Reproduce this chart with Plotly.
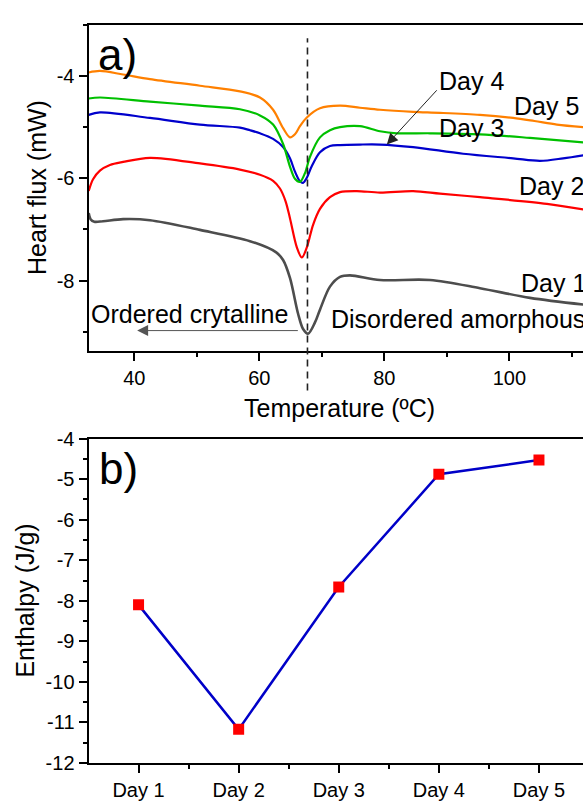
import plotly.graph_objects as go

# ---------------- data: panel a (DSC curves) ----------------
day1_T = [32.7, 33.0, 33.6, 35.0, 38.2, 42.5, 50.5, 58.5, 62.7, 63.8, 64.9, 66.2, 67.0, 67.8, 68.9, 69.7, 71.3, 72.9, 74.5, 79.3, 87.3, 95.3, 103.3, 111.8]
day1_H = [-6.68, -6.80, -6.85, -6.84, -6.80, -6.82, -7.01, -7.23, -7.45, -7.60, -7.95, -8.65, -8.95, -9.04, -8.82, -8.57, -8.12, -7.93, -7.90, -7.99, -7.99, -8.15, -8.34, -8.47]

day2_T = [32.7, 33.4, 34.5, 36.1, 38.2, 42.5, 50.5, 56.9, 60.1, 62.2, 63.3, 64.2, 64.9, 66.0, 66.8, 67.6, 68.6, 69.7, 71.3, 72.9, 75.6, 79.3, 84.6, 88.9, 95.3, 106.0, 111.8]
day2_H = [-6.25, -6.02, -5.85, -5.74, -5.68, -5.60, -5.71, -5.83, -5.93, -6.05, -6.20, -6.45, -6.78, -7.35, -7.55, -7.35, -6.91, -6.60, -6.37, -6.27, -6.25, -6.28, -6.25, -6.30, -6.37, -6.50, -6.61]

day3_T = [32.7, 34.5, 42.5, 50.5, 56.9, 60.1, 62.2, 63.8, 64.9, 65.7, 66.5, 67.3, 68.1, 69.7, 71.3, 72.9, 76.1, 79.3, 82.0, 87.3, 95.3, 103.3, 111.8]
day3_H = [-4.44, -4.42, -4.50, -4.58, -4.65, -4.77, -4.95, -5.33, -5.77, -6.01, -6.07, -5.90, -5.58, -5.20, -5.06, -5.00, -4.98, -5.08, -5.12, -5.12, -5.14, -5.21, -5.30]

day4_T = [32.7, 34.5, 42.5, 50.5, 56.9, 58.5, 60.1, 62.2, 63.8, 64.9, 65.7, 66.5, 67.0, 67.6, 68.4, 69.7, 71.3, 72.9, 76.1, 79.3, 84.6, 92.6, 100.6, 104.9, 108.6, 111.8]
day4_H = [-4.76, -4.71, -4.82, -4.95, -5.01, -5.06, -5.12, -5.23, -5.39, -5.61, -5.87, -6.06, -6.09, -5.99, -5.76, -5.49, -5.37, -5.35, -5.34, -5.34, -5.39, -5.52, -5.61, -5.66, -5.61, -5.55]

day5_T = [32.7, 34.5, 38.2, 42.5, 50.5, 56.9, 60.1, 62.2, 63.8, 64.9, 65.7, 66.5, 67.6, 69.7, 72.9, 76.1, 79.3, 84.6, 88.9, 95.3, 100.6, 104.0, 107.6, 111.8]
day5_H = [-3.93, -3.90, -3.97, -4.06, -4.19, -4.30, -4.42, -4.66, -5.02, -5.20, -5.14, -4.98, -4.81, -4.63, -4.58, -4.62, -4.66, -4.70, -4.72, -4.76, -4.82, -4.88, -4.95, -5.00]

curve_names = ["Day 1", "Day 2", "Day 3", "Day 4", "Day 5"]
curve_colors = ["#4d4d4d", "#ff0000", "#00c000", "#0000cc", "#ff8000"]

peak_T = 67.7

a_xtick_vals = [40, 60, 80, 100]
a_xtick_text = ["40", "60", "80", "100"]
a_ytick_vals = [-8, -6, -4]
a_ytick_text = ["-8", "-6", "-4"]

# ---------------- data: panel b (enthalpy) ----------------
days = ["Day 1", "Day 2", "Day 3", "Day 4", "Day 5"]
day_index = [1, 2, 3, 4, 5]
enthalpy = [-8.10, -11.17, -7.66, -4.88, -4.53]
b_ytick_vals = [-12, -11, -10, -9, -8, -7, -6, -5, -4]
b_ytick_text = ["-12", "-11", "-10", "-9", "-8", "-7", "-6", "-5", "-4"]

# ---------------- layout helpers ----------------
W, H = 583, 811
FONT = "Liberation Sans, Arial, sans-serif"


def px(x):
    return x / W


def py(y):
    return 1 - y / H


fig = go.Figure()

curves = [(day1_T, day1_H), (day2_T, day2_H), (day4_T, day4_H), (day3_T, day3_H), (day5_T, day5_H)]
order = [0, 1, 3, 2, 4]
for (t, h), i in zip(curves, order):
    fig.add_trace(go.Scatter(
        x=t, y=h, mode="lines", name=curve_names[i],
        line=dict(color=curve_colors[i], width=2.6 if i == 0 else 2.2, shape="spline", smoothing=0.9),
        xaxis="x", yaxis="y", hoverinfo="skip"))

fig.add_trace(go.Scatter(
    x=day_index, y=enthalpy, mode="lines+markers",
    line=dict(color="#0000c8", width=2.5),
    marker=dict(symbol="square", size=11, color="#ff0000", line=dict(width=0)),
    xaxis="x2", yaxis="y2", hoverinfo="skip"))

axis_common = dict(showline=True, linewidth=2, linecolor="black", showgrid=False, zeroline=False,
                   ticks="outside", ticklen=8, tickwidth=1.6, tickcolor="black",
                   tickfont=dict(family=FONT, size=20, color="black"))

fig.update_layout(
    width=W, height=H,
    margin=dict(l=0, r=0, t=0, b=0),
    paper_bgcolor="white", plot_bgcolor="white",
    showlegend=False,
    font=dict(family=FONT, color="black"),
    xaxis=dict(domain=[px(88.5), 1], anchor="y", range=[32.67, 111.78], mirror=True,
               tickmode="array", tickvals=a_xtick_vals, ticktext=a_xtick_text,
               minor=dict(tickvals=[50, 70, 90, 110], ticklen=4, tickwidth=1.6, ticks="outside", tickcolor="black"),
               **axis_common),
    yaxis=dict(domain=[py(349), py(14.3)], anchor="x", range=[-9.37, -3.0],
               tickmode="array", tickvals=a_ytick_vals, ticktext=a_ytick_text,
               minor=dict(tickvals=[-9, -7, -5, -3], ticklen=4, tickwidth=1.6, ticks="outside", tickcolor="black"),
               **axis_common),
    xaxis2=dict(domain=[px(88.5), 1], anchor="y2", range=[0.5, 5.44], mirror=True,
                tickmode="array", tickvals=day_index, ticktext=days,
                minor=dict(tickvals=[1.5, 2.5, 3.5, 4.5, 5.5], ticklen=4, tickwidth=1.6, ticks="outside", tickcolor="black"),
                **axis_common),
    yaxis2=dict(domain=[py(773), py(439.5)], anchor="x2", range=[-12, -4],
                tickmode="array", tickvals=b_ytick_vals, ticktext=b_ytick_text,
                minor=dict(tickvals=[-11.5, -10.5, -9.5, -8.5, -7.5, -6.5, -5.5, -4.5], ticklen=4, tickwidth=1.6,
                           ticks="outside", tickcolor="black"),
                **axis_common),
)

# dashed vertical line at the peak temperature
fig.add_shape(type="line", xref="x", yref="paper", x0=peak_T, x1=peak_T, y0=py(390), y1=py(28),
              line=dict(color="#222222", width=1.6, dash="7px,5px"), layer="above")

ann_font = dict(family=FONT, size=25, color="black")
texts = [
    ("a)", 96, 45, 44),
    ("b)", 97, 470, 44),
    ("Day 4", 437, 72, 25),
    ("Day 5", 512, 98, 25),
    ("Day 3", 437, 120, 25),
    ("Day 2", 517, 180, 25),
    ("Day 1", 519, 280, 25),
    ("Disordered amorphous", 329, 317, 25),
    ("Ordered crytalline", 89, 311, 25),
]
for t, x, y, s in texts:
    fig.add_annotation(text=t, xref="paper", yref="paper", x=px(x), y=py(y), xanchor="left", yanchor="middle",
                       showarrow=False, font=dict(family=FONT, size=s, color="black"))

# axis titles
fig.add_annotation(text="Temperature (ºC)", xref="paper", yref="paper", x=px(339), y=py(408),
                   xanchor="center", yanchor="middle", showarrow=False, font=ann_font)
fig.add_annotation(text="Heart flux (mW)", xref="paper", yref="paper", x=px(37), y=py(182),
                   xanchor="center", yanchor="middle", showarrow=False, textangle=-90, font=ann_font)
fig.add_annotation(text="Enthalpy (J/g)", xref="paper", yref="paper", x=px(25), y=py(606),
                   xanchor="center", yanchor="middle", showarrow=False, textangle=-90, font=ann_font)

# arrows
fig.add_annotation(text="", xref="x", yref="y", x=80.4, y=-5.34, axref="x", ayref="y", ax=88.6, ay=-4.25,
                   showarrow=True, arrowhead=2, arrowsize=2.2, arrowwidth=1, arrowcolor="#222222")
fig.add_annotation(text="", xref="x", yref="y", x=40.45, y=-8.98, axref="x", ayref="y", ax=66.4, ay=-8.98,
                   showarrow=True, arrowhead=2, arrowsize=2.2, arrowwidth=1, arrowcolor="#555555")

fig.write_html("out.html")
